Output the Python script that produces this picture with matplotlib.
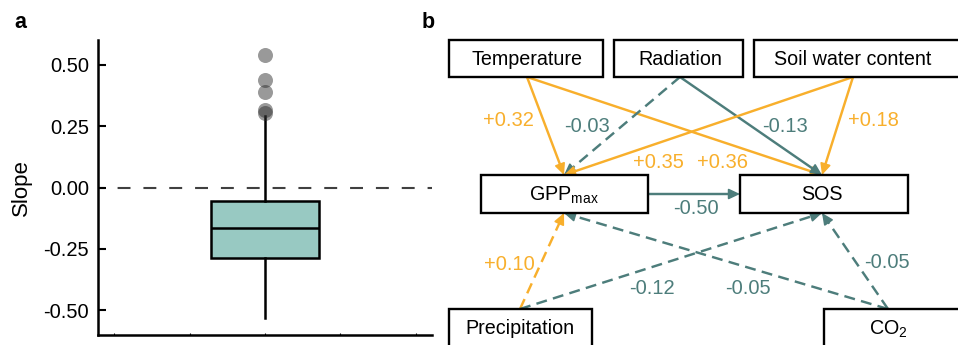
import numpy as np
import matplotlib
matplotlib.use("Agg")
import matplotlib.pyplot as plt
from matplotlib.patches import Rectangle, FancyArrowPatch

plt.rcParams["font.family"] = ["Liberation Sans", "DejaVu Sans"]
plt.rcParams["mathtext.fontset"] = "custom"
plt.rcParams["mathtext.rm"] = "Liberation Sans"
plt.rcParams["mathtext.it"] = "Liberation Sans:italic"

# ── Panel a: slope distribution (boxplot summary) ────────────────────────────
SLOPE_Q1 = -0.286
SLOPE_MED = -0.164
SLOPE_Q3 = -0.056
SLOPE_WHISLO = -0.530
SLOPE_WHISHI = 0.290
SLOPE_OUTLIERS = [0.541, 0.436, 0.389, 0.317, 0.304]
Y_TICKS = [-0.50, -0.25, 0.00, 0.25, 0.50]
Y_TICK_LABELS = ["-0.50", "-0.25", "0.00", "0.25", "0.50"]

# ── Panel b: path diagram ─────────────────────────────────────────────────────
NODES = ["Temperature", "Radiation", "Soil water content",
         "GPPmax", "SOS", "Precipitation", "CO2"]
NODE_LABELS = ["Temperature", "Radiation", "Soil water content",
               r"GPP$_{\mathrm{max}}$", "SOS", "Precipitation", r"CO$_2$"]
EDGE_SRC = ["Temperature", "Temperature", "Radiation", "Radiation",
            "Soil water content", "Soil water content", "GPPmax",
            "Precipitation", "Precipitation", "CO2", "CO2"]
EDGE_DST = ["GPPmax", "SOS", "GPPmax", "SOS",
            "GPPmax", "SOS", "SOS",
            "GPPmax", "SOS", "GPPmax", "SOS"]
EDGE_COEF = [0.32, 0.36, -0.03, -0.13, 0.35, 0.18, -0.50, 0.10, -0.12, -0.05, -0.05]
EDGE_SIG = [True, True, False, True, True, True, True, False, False, False, False]

# ── Layout (pixel space of the 958x345 canvas) ───────────────────────────────
NODE_BOX = {  # x0, x1, y0, y1
    "Temperature":        (449, 603, 40, 77),
    "Radiation":          (614, 743, 40, 77),
    "Soil water content": (754, 960, 40, 77),
    "GPPmax":             (481, 648, 175, 213),
    "SOS":                (740, 908, 175, 213),
    "Precipitation":      (449, 592, 309, 347),
    "CO2":                (824, 962, 309, 347),
}
NODE_X = {"Temperature": 527, "Radiation": 680, "Soil water content": 853,
          "GPPmax": 564, "SOS": 822, "Precipitation": 520, "CO2": 888}
LABEL_XY = [(508, 120), (723, 162), (587, 127), (785, 127), (658, 162),
            (873, 120), (696, 208), (509, 264), (652, 289), (748, 289),
            (887, 263)]

POS_COLOR = "#F8AF2C"
NEG_COLOR = "#4D7D7B"
BOX_FILL = "#98C9C2"
W, H = 958, 345

fig = plt.figure(figsize=(W / 100, H / 100), dpi=100)

# ── Panel a ───────────────────────────────────────────────────────────────────
ax = fig.add_axes([98 / W, 1 - 335 / H, 334 / W, 295 / H])
stats = dict(q1=SLOPE_Q1, med=SLOPE_MED, q3=SLOPE_Q3,
             whislo=SLOPE_WHISLO, whishi=SLOPE_WHISHI, fliers=SLOPE_OUTLIERS)
ax.axhline(0, color="#404040", lw=1.5, linestyle=(3, (6.2, 6.2)), zorder=1)
ax.bxp([stats], positions=[0], widths=0.285, patch_artist=True, showcaps=False,
       boxprops=dict(facecolor=BOX_FILL, edgecolor="black", linewidth=1.8),
       medianprops=dict(color="black", linewidth=1.8),
       whiskerprops=dict(color="black", linewidth=1.8),
       flierprops=dict(marker="o", markerfacecolor="#2a2a2a",
                       markeredgecolor="none", alpha=0.48, markersize=10.8),
       zorder=2)
ax.set_xlim(-0.4427, 0.4427)
ax.set_ylim(-0.6, 0.6)
ax.set_yticks(Y_TICKS)
ax.set_yticklabels(Y_TICK_LABELS)
ax.set_xticks([-0.4, -0.2, 0.0, 0.2, 0.4])
ax.set_xticklabels([])
ax.tick_params(axis="y", direction="in", length=6, width=1.5,
               labelsize=14.5, pad=6.5)
ax.tick_params(axis="x", direction="in", length=1.5, width=0.8)
for side in ("top", "right"):
    ax.spines[side].set_visible(False)
for side in ("left", "bottom"):
    ax.spines[side].set_linewidth(1.8)
ax.set_ylabel("Slope", fontsize=16)
ax.yaxis.set_label_coords(-0.198, 0.5)

fig.text(14 / W, 1 - 28 / H, "a", fontsize=15.5, fontweight="bold", va="baseline")
fig.text(422 / W, 1 - 28 / H, "b", fontsize=15.5, fontweight="bold", va="baseline")

# ── Panel b ───────────────────────────────────────────────────────────────────
bx = fig.add_axes([420 / W, 0, 538 / W, 1])
bx.set_xlim(420, W)
bx.set_ylim(H, 0)
bx.axis("off")

for name, label in zip(NODES, NODE_LABELS):
    x0, x1, y0, y1 = NODE_BOX[name]
    bx.add_patch(Rectangle((x0, y0), x1 - x0, y1 - y0, facecolor="white",
                           edgecolor="black", linewidth=1.7, zorder=3))
    bx.text(NODE_X[name], (y0 + y1) / 2 + 1, label, fontsize=14.2,
            ha="center", va="center", zorder=4)


def edge_points(src, dst):
    sx0, sx1, sy0, sy1 = NODE_BOX[src]
    dx0, dx1, dy0, dy1 = NODE_BOX[dst]
    if sy1 <= dy0:
        return (NODE_X[src], sy1), (NODE_X[dst], dy0)
    if dy1 <= sy0:
        return (NODE_X[src], sy0), (NODE_X[dst], dy1)
    ym = (sy0 + sy1) / 2
    return (sx1, ym), (dx0, ym)


HEAD_LEN = 9.0
for src, dst, coef, sig, (lx, ly) in zip(EDGE_SRC, EDGE_DST, EDGE_COEF,
                                          EDGE_SIG, LABEL_XY):
    color = POS_COLOR if coef > 0 else NEG_COLOR
    start, end = (np.array(p, dtype=float) for p in edge_points(src, dst))
    u = (end - start) / np.linalg.norm(end - start)
    stop = end - u * HEAD_LEN * 0.6
    ls = "-" if sig else (0, (4.5, 2.6))
    bx.plot([start[0], stop[0]], [start[1], stop[1]], color=color, lw=1.75,
            linestyle=ls, solid_capstyle="butt", zorder=2)
    bx.add_patch(FancyArrowPatch(
        posA=tuple(end - u * HEAD_LEN), posB=tuple(end),
        arrowstyle="-|>,head_length=0.68,head_width=0.32", mutation_scale=10,
        color=color, lw=1.2, shrinkA=0, shrinkB=0, zorder=2))
    bx.text(lx, ly, f"{coef:+.2f}", color=color, fontsize=14.5,
            ha="center", va="center", zorder=4)

fig.savefig("out.png", dpi=100)
